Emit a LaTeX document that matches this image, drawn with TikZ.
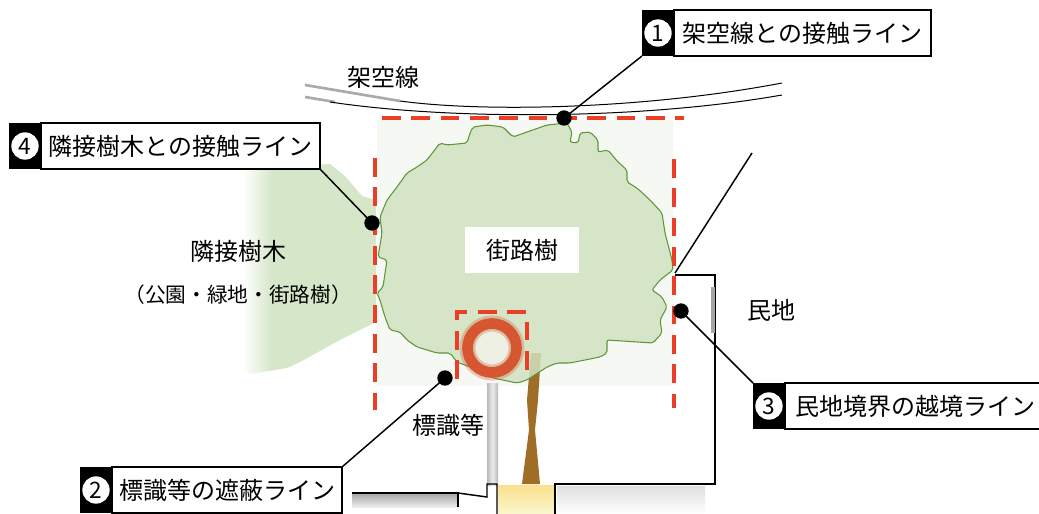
\documentclass[tikz,border=0pt]{standalone}
\usepackage{fontspec}
\setmainfont{Noto Sans CJK JP}
\usetikzlibrary{positioning}

\tikzset{every picture/.style={line width=0.75pt},
  redline/.style={draw={rgb, 255:red, 234; green, 62; blue, 38}, line width=3pt, dash pattern=on 14pt off 8pt},
  numtag/.style={fill=black, minimum width=24pt, minimum height=34.5pt, inner sep=0pt, outer sep=0pt},
  numdisk/.style={circle, fill=white, minimum size=20.5pt, inner sep=0pt, font=\fontsize{17}{17}\selectfont},
  tagtext/.style={draw=black, line width=1.1pt, fill=white, minimum height=34.5pt, inner sep=0pt, outer sep=0pt, font=\fontsize{18}{18}\selectfont},
  lbl/.style={inner sep=1pt, font=\fontsize{18}{18}\selectfont},
  leader/.style={draw=black, line width=1.1pt},
  hitdot/.style={circle, fill=black, minimum size=11.5pt, inner sep=0pt},
  wiregray/.style={draw={rgb, 255:red, 170; green, 170; blue, 170}, line width=2pt},
  crown/.style={draw={rgb, 255:red, 95; green, 150; blue, 60}, line width=0.8pt, fill={rgb, 255:red, 209; green, 226; blue, 192}, fill opacity=0.85, rounded corners=1.5pt},
}

\begin{document}
\begin{tikzpicture}[x=0.75pt,y=0.75pt,yscale=-1]
\useasboundingbox (0,0) rectangle (1039,514);

%Shape: Rectangle (pale ground behind the crown)
\fill[color={rgb, 255:red, 245; green, 248; blue, 243}] (377,120) rectangle (673,386);

%Neighbouring trees
\begin{scope}
\clip (245,168) -- (330,164) -- (345,176) -- (362,196) -- (376,200) -- (376,322) -- (340,340) -- (300,362) -- (287,368) -- (250,374) -- (243,370) -- cycle;
\fill[color={rgb, 255:red, 214; green, 230; blue, 200}] (272,150) rectangle (380,380);
\shade[left color=white, right color={rgb, 255:red, 214; green, 230; blue, 200}] (243,150) rectangle (272,380);
\end{scope}

%Overhead wires
\draw[wiregray] (305,85) -- (400,101) ;
\draw[wiregray] (305,97) -- (335,102) ;
\draw    (400,101) .. controls (480,112) and (640,110) .. (782,83) ;
\draw    (330,102) .. controls (450,120) and (640,120) .. (782,95) ;

%Sign pole
\shade[left color=gray!55, right color=gray!55, middle color=gray!15] (487,383) rectangle (498,485);

%Tree trunk
\fill[color={rgb, 255:red, 158; green, 110; blue, 38}] (531,353) -- (541,353) -- (538,400) -- (535,430) -- (540,484) -- (522,484) -- (529,430) -- (527,400) -- cycle;

%Crown of the street tree
\draw[crown] (470,133) -- (473,127) -- (487,125) -- (503,127) -- (513,137) -- (527,132) -- (547,125) -- (567,123) -- (572,132) -- (570,142) -- (578,143) -- (580,133) -- (590,132) -- (598,140) -- (598,152) -- (608,150) -- (618,162) -- (627,170) -- (627,182) -- (637,188) -- (650,200) -- (662,213) -- (665,233) -- (672,260) -- (673,270) -- (660,280) -- (652,290) -- (662,297) -- (667,307) -- (660,320) -- (662,333) -- (653,343) -- (607,340) -- (607,353) -- (600,357) -- (570,363) -- (557,363) -- (547,367) -- (527,380) -- (517,383) -- (493,378) -- (470,367) -- (457,362) -- (450,353) -- (437,353) -- (417,347) -- (407,340) -- (400,332) -- (390,330) -- (385,317) -- (380,300) -- (377,293) -- (383,287) -- (387,260) -- (378,257) -- (382,233) -- (380,217) -- (387,200) -- (397,187) -- (407,173) -- (417,167) -- (427,160) -- (440,143) -- (447,145) -- (467,143) -- cycle ;

%Road sign
\fill[color={rgb, 255:red, 238; green, 240; blue, 228}] (492,348) circle (18) ;
\draw[color={rgb, 255:red, 214; green, 86; blue, 50}, line width=12pt, opacity=0.3] (492,348) circle (24.5) ;
\draw[color={rgb, 255:red, 214; green, 86; blue, 50}, line width=8pt] (492,348) circle (24.5) ;

%Ground, kerb and tree pit
\shade[top color=gray!70, bottom color=gray!15] (352,493) rectangle (458,507) ;
\shade[top color=gray!25, bottom color=white] (557,486) rectangle (705,514) ;
\shade[top color={rgb, 255:red, 250; green, 224; blue, 140}, bottom color={rgb, 255:red, 250; green, 246; blue, 205}] (498,485) rectangle (555,514) ;
\draw[line width=1.1pt] (352,493) -- (458,493) -- (458,507) ;
\draw[line width=1.1pt] (458,493) -- (487,497) -- (487,484) -- (497,484) -- (497,514) ;
\draw[line width=1.1pt] (555,514) -- (555,484) -- (715,484) -- (715,275) -- (675,275) ;
\draw[line width=1.1pt] (675,273) -- (752,153) ;
\draw[color=gray!70, line width=3pt] (713,287) -- (713,333) ;

%Clearance lines
\draw[redline] (382,118) -- (684,118) ;
\draw[redline] (375,158) -- (375,410) ;
\draw[redline] (674,159) -- (674,408) ;
\draw[redline] (457,379) -- (457,312) -- (527,312) -- (527,379) ;

%Labels
\node[lbl] (wire) at (383,77) {架空線};
\node[lbl, fill=white, minimum width=85.5pt, minimum height=35pt] (street) at (522,250) {街路樹};
\node[lbl] (adj) at (238,251) {隣接樹木};
\node[inner sep=1pt, font=\fontsize{15.5}{15.5}\selectfont] (adjsub) at (238,295) {（公園・緑地・街路樹）};
\node[lbl] (private) at (771,310) {民地};
\node[lbl] (sign) at (448,425) {標識等};

%Contact points
\node[hitdot] (hit1) at (564,118) {};
\node[hitdot] (hit4) at (372,223) {};
\node[hitdot] (hit2) at (445,378) {};
\node[hitdot] (hit3) at (681,311) {};

%Tags
\node[numtag, anchor=north west] (tag1) at (642,10) {};
\node[numdisk] (num1) at (tag1) {1};
\node[tagtext, minimum width=192.75pt, right=0pt of tag1] (lab1) {架空線との接触ライン};

\node[numtag, anchor=north west] (tag4) at (9,123) {};
\node[numdisk] (num4) at (tag4) {4};
\node[tagtext, minimum width=209.25pt, right=0pt of tag4] (lab4) {隣接樹木との接触ライン};

\node[numtag, anchor=north west] (tag2) at (80,467) {};
\node[numdisk] (num2) at (tag2) {2};
\node[tagtext, minimum width=172.5pt, right=0pt of tag2] (lab2) {標識等の遮蔽ライン};

\node[numtag, anchor=north west] (tag3) at (753,383) {};
\node[numdisk] (num3) at (tag3) {3};
\node[tagtext, minimum width=195pt, right=0pt of tag3] (lab3) {民地境界の越境ライン};

%Leader lines
\draw[leader] (tag1.south west) -- (hit1.center) ;
\draw[leader] (lab4.south east) -- (hit4.center) ;
\draw[leader] (lab2.north east) -- (hit2.center) ;
\draw[leader] (tag3.north west) -- (hit3.center) ;

\end{tikzpicture}
\end{document}
